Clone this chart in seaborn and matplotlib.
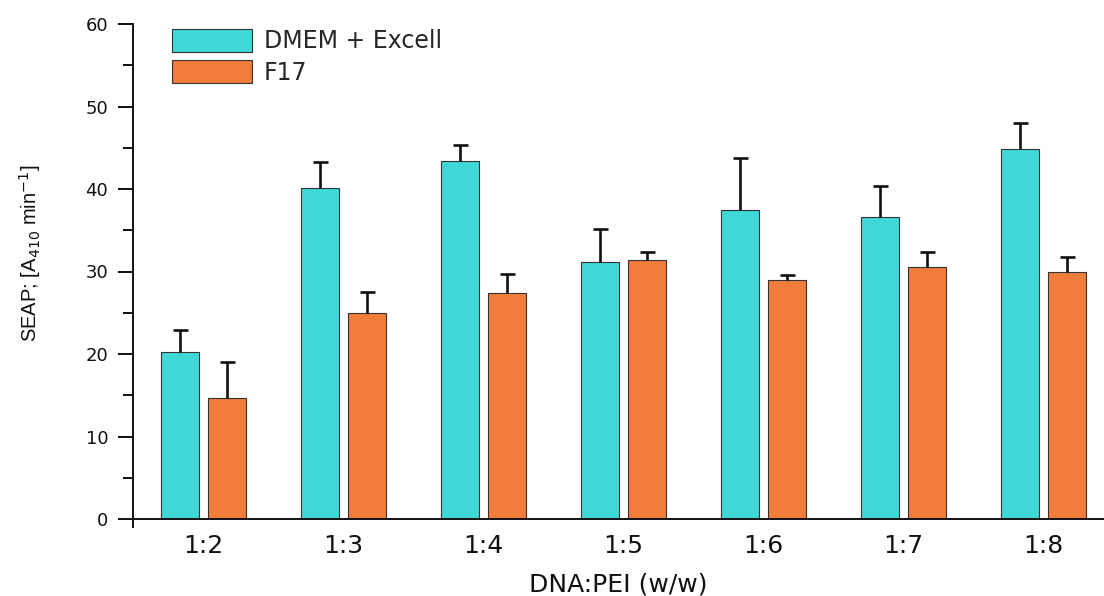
import numpy as np
import pandas as pd
import matplotlib
matplotlib.use('Agg')
import matplotlib.pyplot as plt
import seaborn as sns
from matplotlib.ticker import MultipleLocator, FixedLocator, NullFormatter

ratios = ['1:2', '1:3', '1:4', '1:5', '1:6', '1:7', '1:8']
dmem = [20.2, 40.1, 43.4, 31.2, 37.5, 36.6, 44.8]
dmem_err = [2.7, 3.2, 1.9, 3.9, 6.3, 3.8, 3.2]
f17 = [14.7, 25.0, 27.4, 31.4, 29.0, 30.5, 29.9]
f17_err = [4.3, 2.5, 2.3, 1.0, 0.6, 1.9, 1.9]
series = ['DMEM + Excell', 'F17']
colors = ['#3ed8d8', '#f27d3a']
y_ticks = [0, 10, 20, 30, 40, 50, 60]

df = pd.DataFrame({
    'ratio': ratios * 2,
    'value': dmem + f17,
    'err': dmem_err + f17_err,
    'medium': [series[0]] * len(ratios) + [series[1]] * len(ratios),
})

sns.set_style('ticks')
plt.rcParams['font.family'] = ['DejaVu Sans']

fig = plt.figure(figsize=(11.04, 5.96), dpi=100)
ax = fig.add_axes([133 / 1104, 1 - 519 / 596, 1 - 133 / 1104, (519 - 24) / 596])

sns.barplot(data=df, x='ratio', y='value', hue='medium', order=ratios,
            hue_order=series, palette=colors, width=0.671, gap=0.193,
            errorbar=None, edgecolor='#333333', linewidth=0.8, saturation=1,
            ax=ax)

errs = [dmem_err, f17_err]
for cont, e in zip(ax.containers, errs):
    xs = [b.get_x() + b.get_width() / 2 for b in cont]
    hs = [b.get_height() for b in cont]
    _, caps, _ = ax.errorbar(xs, hs, yerr=[np.zeros(len(e)), e], fmt='none',
                             ecolor='#111111', elinewidth=1.9, capsize=5.4,
                             capthick=1.9, zorder=1)
    caps[0].set_visible(False)

ax.set_xlim(-0.5, 6.43)
ax.set_ylim(0, 60)
ax.yaxis.set_major_locator(FixedLocator(y_ticks))
ax.yaxis.set_minor_locator(MultipleLocator(5))
ax.tick_params(axis='y', which='major', direction='out', length=10.8, width=1.4,
               labelsize=13, pad=7, colors='#111111')
ax.tick_params(axis='y', which='minor', direction='out', length=7.2, width=1.4,
               colors='#111111')
ax.tick_params(axis='x', which='major', length=0, labelsize=18, pad=11,
               colors='#111111')
ax.xaxis.set_minor_locator(FixedLocator([-0.5]))
ax.xaxis.set_minor_formatter(NullFormatter())
ax.tick_params(axis='x', which='minor', direction='out', length=6.5, width=1.4,
               colors='#111111')

for s in ['top', 'right']:
    ax.spines[s].set_visible(False)
for s in ['left', 'bottom']:
    ax.spines[s].set_linewidth(1.4)
    ax.spines[s].set_color('#111111')

ax.set_xlabel('DNA:PEI (w/w)', fontsize=18, labelpad=10, color='#111111')
ax.set_ylabel('')
fig.text(30 / 1104, 1 - 253 / 596, 'SEAP; [A$_{410}$ min$^{-1}$]', rotation=90,
         ha='center', va='center', fontsize=14.5, family=['Liberation Sans', 'DejaVu Sans'],
         color='#111111')

handles, labels = ax.get_legend_handles_labels()
ax.legend(handles, labels, loc='upper left',
          bbox_to_anchor=(172 / 1104, 1 - 29 / 596), bbox_transform=fig.transFigure,
          frameon=False, fontsize=17, handlelength=3.4, handleheight=1.1,
          handletextpad=0.5, labelspacing=0.3, borderpad=0, borderaxespad=0)

fig.savefig('out.png', dpi=100)
